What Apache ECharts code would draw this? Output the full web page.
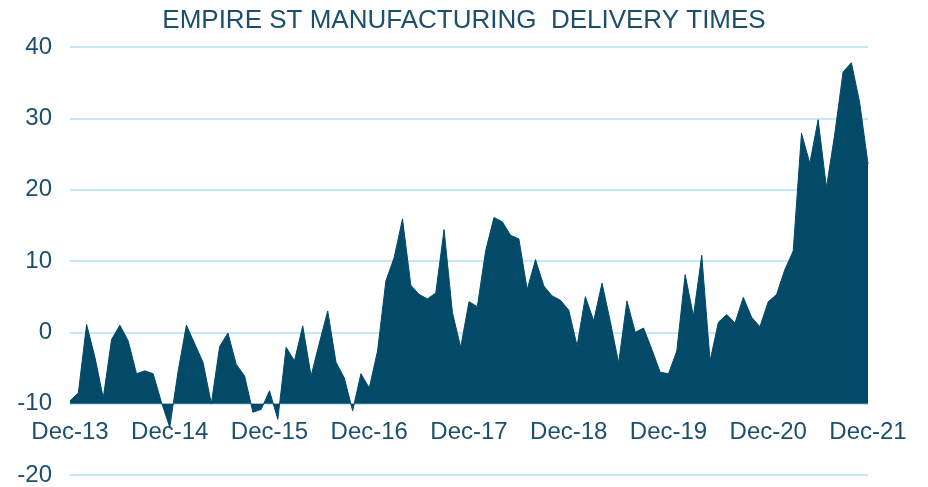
<!DOCTYPE html>
<html>
<head>
<meta charset="utf-8">
<script src="https://cdn.jsdelivr.net/npm/echarts@6/dist/echarts.min.js"></script>
<style>
html,body{margin:0;padding:0;background:#fff;}
#chart{width:928px;height:487px;}
</style>
</head>
<body>
<div id="chart"></div>
<script>
// Monthly values, Dec-13 .. Dec-21
const deliveryTimes = [
  -9.6, -8.5, 1.1, -3.5, -9.2, -1.0, 1.0, -1.2, -5.8, -5.4, -5.8, -9.8,
  -13.3, -5.5, 1.0, -1.6, -4.2, -10.0, -2.0, -0.1, -4.5, -6.1, -11.2, -10.8,
  -8.2, -12.2, -2.1, -4.0, 0.9, -6.1, -1.5, 3.0, -4.2, -6.4, -11.0, -5.8,
  -7.8, -2.6, 7.2, 10.5, 15.9, 6.6, 5.3, 4.7, 5.5, 14.4, 2.8, -2.1,
  4.3, 3.6, 11.4, 16.1, 15.5, 13.6, 13.1, 6.0, 10.2, 6.5, 5.1, 4.5,
  3.1, -1.9, 5.0, 1.6, 6.9, 1.5, -4.3, 4.4, 0.0, 0.6, -2.4, -5.6,
  -5.8, -2.6, 8.1, 2.3, 10.8, -4.0, 1.4, 2.5, 1.3, 4.9, 2.1, 0.8,
  4.3, 5.3, 8.8, 11.4, 27.9, 23.7, 29.8, 20.3, 27.8, 36.5, 37.8, 32.2,
  23.6
];
const monthNames = ["Jan","Feb","Mar","Apr","May","Jun","Jul","Aug","Sep","Oct","Nov","Dec"];
const startYear = 13;   // Dec-13
const categories = [];
for (let i = 0; i < deliveryTimes.length; i++) {
  const m = (11 + i) % 12;
  const y = startYear + Math.floor((11 + i) / 12);
  categories.push(monthNames[m] + "-" + y);
}
const yTicks = { min: -20, max: 40, interval: 10 };
const titleText = "EMPIRE ST MANUFACTURING  DELIVERY TIMES";

const textColor = "#1b4f6d";
const chart = echarts.init(document.getElementById("chart"), null, { renderer: "canvas" });
chart.setOption({
  animation: false,
  backgroundColor: "#ffffff",
  title: {
    text: titleText,
    left: "center",
    top: 3,
    textStyle: { color: textColor, fontSize: 26, fontWeight: "normal", fontFamily: "Liberation Sans, Arial, sans-serif" }
  },
  grid: { left: 70, right: 60, top: 47, bottom: 12, containLabel: false },
  xAxis: {
    type: "category",
    data: categories,
    boundaryGap: false,
    offset: -71.3,
    axisLine: { show: false },
    axisTick: { show: false },
    splitLine: { show: false },
    axisLabel: {
      interval: function (i) { return i % 12 === 0; },
      margin: 17,
      color: textColor,
      fontSize: 24,
      fontFamily: "Liberation Sans, Arial, sans-serif"
    }
  },
  yAxis: {
    type: "value",
    min: yTicks.min,
    max: yTicks.max,
    interval: yTicks.interval,
    axisLine: { show: false },
    axisTick: { show: false },
    splitLine: { show: true, lineStyle: { color: "#c4e8fa", width: 2 } },
    axisLabel: {
      margin: 18,
      color: textColor,
      fontSize: 24,
      fontFamily: "Liberation Sans, Arial, sans-serif"
    }
  },
  series: [{
    type: "line",
    data: deliveryTimes,
    showSymbol: false,
    lineStyle: { color: "#034a69", width: 1 },
    itemStyle: { color: "#034a69" },
    areaStyle: { color: "#034a69", opacity: 1, origin: -10 }
  }]
});
</script>
</body>
</html>
